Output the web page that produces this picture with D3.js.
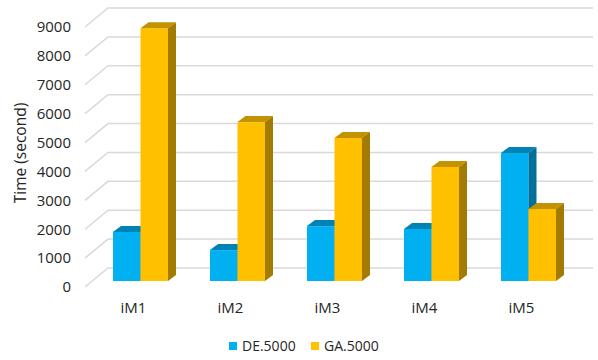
<!DOCTYPE html>
<html>
<head>
<meta charset="utf-8">
<script src="https://cdn.jsdelivr.net/npm/d3@7"></script>
<style>
  body { margin: 0; background: #fff; }
  text { font-family: "Open Sans", sans-serif; fill: #262626; }
</style>
</head>
<body>
<div id="chart"></div>
<script>
var categories = ['iM1', 'iM2', 'iM3', 'iM4', 'iM5'];
var seriesNames = ['DE.5000', 'GA.5000'];
var deValues = [1700, 1070, 1900, 1800, 4430];
var gaValues = [8750, 5500, 4950, 3950, 2490];
var yTicks = [0, 1000, 2000, 3000, 4000, 5000, 6000, 7000, 8000, 9000];

var colors = {
  'DE.5000': {front: '#00b0f0', top: '#0082b4', side: '#00709a'},
  'GA.5000': {front: '#ffc000', top: '#c29200', side: '#a27b00'}
};

var width = 598, height = 360;
// floor front edge and the depth of the 3d box
var floor = {left: 85, right: 570};
var wall = {dx: 23, dy: -19};
var barPos = {dx: 7, dy: -6};   // where the bars sit inside the box
var barDepth = {dx: 8, dy: -6};
var barWidth = 27.5;

var svg = d3.select('#chart')
  .append('svg')
  .attr('width', width)
  .attr('height', height);

var x = d3.scaleBand()
  .domain(categories)
  .range([floor.left, floor.right]);

var y = d3.scaleLinear()
  .domain([0, 9000])
  .range([287, 27]);

// gridlines: diagonal on left wall, then straight on back wall
var grid = svg.append('g')
  .attr('fill', 'none')
  .attr('stroke', '#d9d9d9')
  .attr('stroke-width', 1.5);

grid.selectAll('path')
  .data(yTicks)
  .enter()
  .append('path')
  .attr('d', function(t) {
    var yf = y(t);
    return 'M' + floor.left + ',' + yf
      + 'L' + (floor.left + wall.dx) + ',' + (yf + wall.dy)
      + 'L' + (floor.right + wall.dx) + ',' + (yf + wall.dy);
  });

// y axis labels
var yAxis = svg.append('g')
  .attr('transform', 'translate(' + floor.left + ',0)')
  .call(d3.axisLeft(y).tickValues(yTicks).tickSize(0).tickPadding(14).tickFormat(d3.format('d')));
yAxis.select('.domain').remove();
yAxis.selectAll('text')
  .style('font-family', '"Open Sans", sans-serif')
  .style('font-size', '15px')
  .attr('fill', '#262626');

svg.append('text')
  .attr('transform', 'translate(26,153) rotate(-90)')
  .attr('text-anchor', 'middle')
  .style('font-size', '15.5px')
  .text('Time (second)');

// x labels
svg.append('g')
  .selectAll('text')
  .data(categories)
  .enter()
  .append('text')
  .attr('x', function(d) { return x(d) + x.bandwidth() / 2; })
  .attr('y', 313)
  .attr('text-anchor', 'middle')
  .style('font-size', '15px')
  .text(function(d) { return d; });

// bars
var bars = [];
categories.forEach(function(c, i) {
  bars.push({cat: c, series: 'DE.5000', value: deValues[i], k: 0});
  bars.push({cat: c, series: 'GA.5000', value: gaValues[i], k: 1});
});

function barX(d) {
  return x(d.cat) + (x.bandwidth() - 2 * barWidth) / 2 + d.k * barWidth + barPos.dx;
}

var barG = svg.append('g')
  .selectAll('g')
  .data(bars)
  .enter()
  .append('g');

barG.append('rect')
  .attr('x', barX)
  .attr('y', function(d) { return y(d.value) + barPos.dy; })
  .attr('width', barWidth)
  .attr('height', function(d) { return y(0) - y(d.value); })
  .attr('fill', function(d) { return colors[d.series].front; });

barG.append('path')
  .attr('d', function(d) {
    var x0 = barX(d), y0 = y(d.value) + barPos.dy;
    return 'M' + x0 + ',' + y0
      + 'L' + (x0 + barWidth) + ',' + y0
      + 'L' + (x0 + barWidth + barDepth.dx) + ',' + (y0 + barDepth.dy)
      + 'L' + (x0 + barDepth.dx) + ',' + (y0 + barDepth.dy) + 'Z';
  })
  .attr('fill', function(d) { return colors[d.series].top; });

barG.append('path')
  .attr('d', function(d) {
    var x1 = barX(d) + barWidth, yt = y(d.value) + barPos.dy, yb = y(0) + barPos.dy;
    return 'M' + x1 + ',' + yt
      + 'L' + (x1 + barDepth.dx) + ',' + (yt + barDepth.dy)
      + 'L' + (x1 + barDepth.dx) + ',' + (yb + barDepth.dy)
      + 'L' + x1 + ',' + yb + 'Z';
  })
  .attr('fill', function(d) { return colors[d.series].side; });

// legend
var legend = svg.append('g')
  .selectAll('g')
  .data(seriesNames)
  .enter()
  .append('g')
  .attr('transform', function(d, i) { return 'translate(' + (229 + i * 82) + ',342)'; });

legend.append('rect')
  .attr('width', 8)
  .attr('height', 8)
  .attr('fill', function(d) { return colors[d].front; });

legend.append('text')
  .attr('x', 13)
  .attr('y', 9)
  .style('font-size', '14px')
  .text(function(d) { return d; });
</script>
</body>
</html>
